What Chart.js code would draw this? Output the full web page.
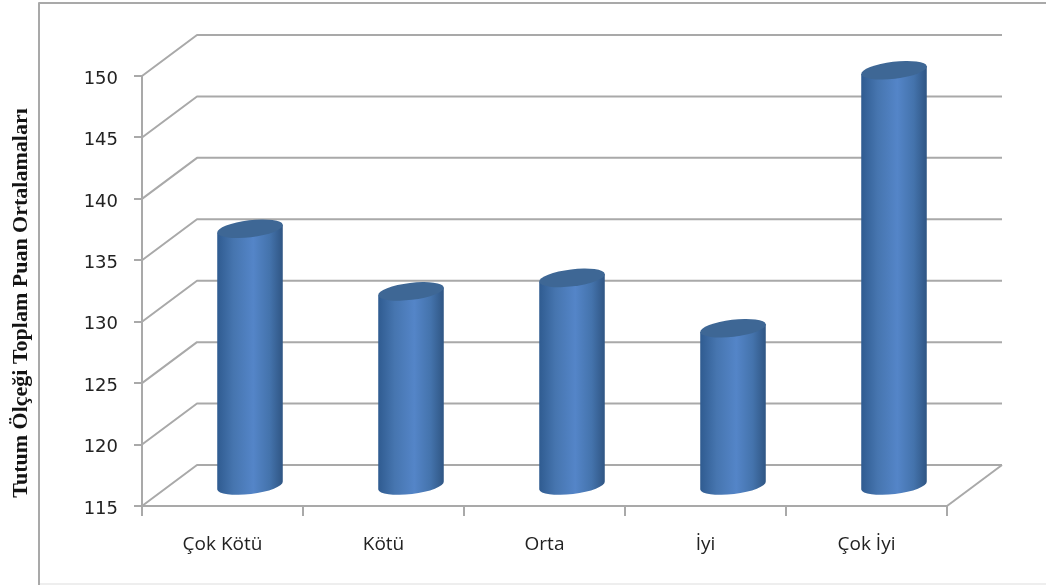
<!DOCTYPE html>
<html lang="tr">

<head>
    <meta charset="UTF-8">
    <title>Tutum Ölçeği</title>
    <style>
        body { margin: 0; background: #fff; }
        canvas { display: block; }
    </style>
</head>

<body>
    <canvas id="myChart" width="1046" height="585"></canvas>

    <script src="https://cdn.jsdelivr.net/npm/chart.js"></script>
    <script>
        const categories = ["Çok Kötü", "Kötü", "Orta", "İyi", "Çok İyi"];
        const values = [135.9, 130.8, 131.9, 127.8, 148.8];
        const yTicks = [115, 120, 125, 130, 135, 140, 145, 150];
        const yTitle = "Tutum Ölçeği Toplam Puan Ortalamaları";

        const lineColor = "#a9a9a9";
        // how far the back wall sits from the front plane
        const depthX = 55;
        const depthY = -41;

        const wallPlugin = {
            id: "wall",
            beforeDatasetsDraw(chart) {
                const c = chart.ctx;
                const area = chart.chartArea;
                const yScale = chart.scales.y;
                c.save();
                c.strokeStyle = lineColor;
                c.lineWidth = 2;
                c.lineJoin = "round";

                // outer frame
                c.beginPath();
                c.moveTo(39, 585);
                c.lineTo(39, 3);
                c.lineTo(1046, 3);
                c.stroke();
                c.strokeStyle = "#eeeeee";
                c.beginPath();
                c.moveTo(40, 584);
                c.lineTo(1046, 584);
                c.stroke();

                // side wall and back wall lines for every tick
                c.strokeStyle = lineColor;
                yTicks.forEach((t) => {
                    const y = yScale.getPixelForValue(t);
                    c.beginPath();
                    c.moveTo(area.left, y);
                    c.lineTo(area.left + depthX, y + depthY);
                    c.lineTo(area.right + depthX, y + depthY);
                    c.stroke();
                });

                // floor, right edge
                c.beginPath();
                c.moveTo(area.right + depthX, area.bottom + depthY);
                c.lineTo(area.right, area.bottom);
                c.stroke();

                // y title
                c.translate(21, 303);
                c.rotate(-Math.PI / 2);
                c.font = "bold 22px 'Liberation Serif'";
                c.fillStyle = "#141414";
                c.textAlign = "center";
                c.textBaseline = "middle";
                c.fillText(yTitle, 0, 0);
                c.restore();
            },
            afterDatasetsDraw(chart) {
                const c = chart.ctx;
                const tilt = -0.12;
                const ry = 8.5;
                const floorY = chart.scales.y.getPixelForValue(yTicks[0]);
                chart.getDatasetMeta(0).data.forEach((bar) => {
                    // cylinders stand in the middle of the floor depth
                    const cx = bar.x + depthX / 2;
                    const top = bar.y + depthY / 2;
                    const bottom = floorY + depthY / 2;
                    const rx = bar.width / 2;
                    const dx = rx * Math.cos(tilt);
                    const dy = rx * Math.sin(tilt);

                    const g = c.createLinearGradient(cx - rx, 0, cx + rx, 0);
                    g.addColorStop(0, "#2f5b90");
                    g.addColorStop(0.25, "#4675af");
                    g.addColorStop(0.55, "#5485c8");
                    g.addColorStop(0.8, "#4473ac");
                    g.addColorStop(1, "#2f5583");

                    c.save();
                    c.fillStyle = g;
                    c.beginPath();
                    c.moveTo(cx - dx, top - dy);
                    c.lineTo(cx - dx, bottom - dy);
                    c.ellipse(cx, bottom, rx, ry, tilt, Math.PI, 0, true);
                    c.lineTo(cx + dx, top + dy);
                    c.closePath();
                    c.fill();

                    c.fillStyle = "#3e6795";
                    c.beginPath();
                    c.ellipse(cx, top, rx, ry, tilt, 0, Math.PI * 2);
                    c.fill();
                    c.restore();
                });
            }
        };

        new Chart(document.querySelector("#myChart"), {
            type: "bar",
            data: {
                labels: categories,
                datasets: [{
                    data: values,
                    barThickness: 66,
                    backgroundColor: "rgba(0,0,0,0)"
                }]
            },
            plugins: [wallPlugin],
            options: {
                responsive: false,
                animation: false,
                layout: { padding: { top: 76, right: 99, bottom: 0, left: 0 } },
                plugins: {
                    legend: { display: false },
                    tooltip: { enabled: false }
                },
                scales: {
                    x: {
                        afterFit(scale) { scale.height = 79; },
                        grid: { offset: true, drawOnChartArea: false, tickLength: 10, color: lineColor, lineWidth: 2 },
                        border: { color: lineColor, width: 2 },
                        ticks: {
                            padding: 17,
                            maxRotation: 0,
                            color: "#222222",
                            font: { family: "'Open Sans'", size: 19 }
                        }
                    },
                    y: {
                        min: yTicks[0],
                        max: yTicks[yTicks.length - 1],
                        afterBuildTicks(scale) { scale.ticks = yTicks.map((v) => ({ value: v })); },
                        afterFit(scale) { scale.width = 142; },
                        grid: { drawOnChartArea: false, tickLength: 8, color: lineColor, lineWidth: 2 },
                        border: { color: lineColor, width: 2 },
                        ticks: {
                            padding: 16,
                            labelOffset: 3,
                            color: "#222222",
                            font: { family: "'DejaVu Sans'", size: 18 }
                        }
                    }
                }
            }
        });
    </script>
</body>

</html>
